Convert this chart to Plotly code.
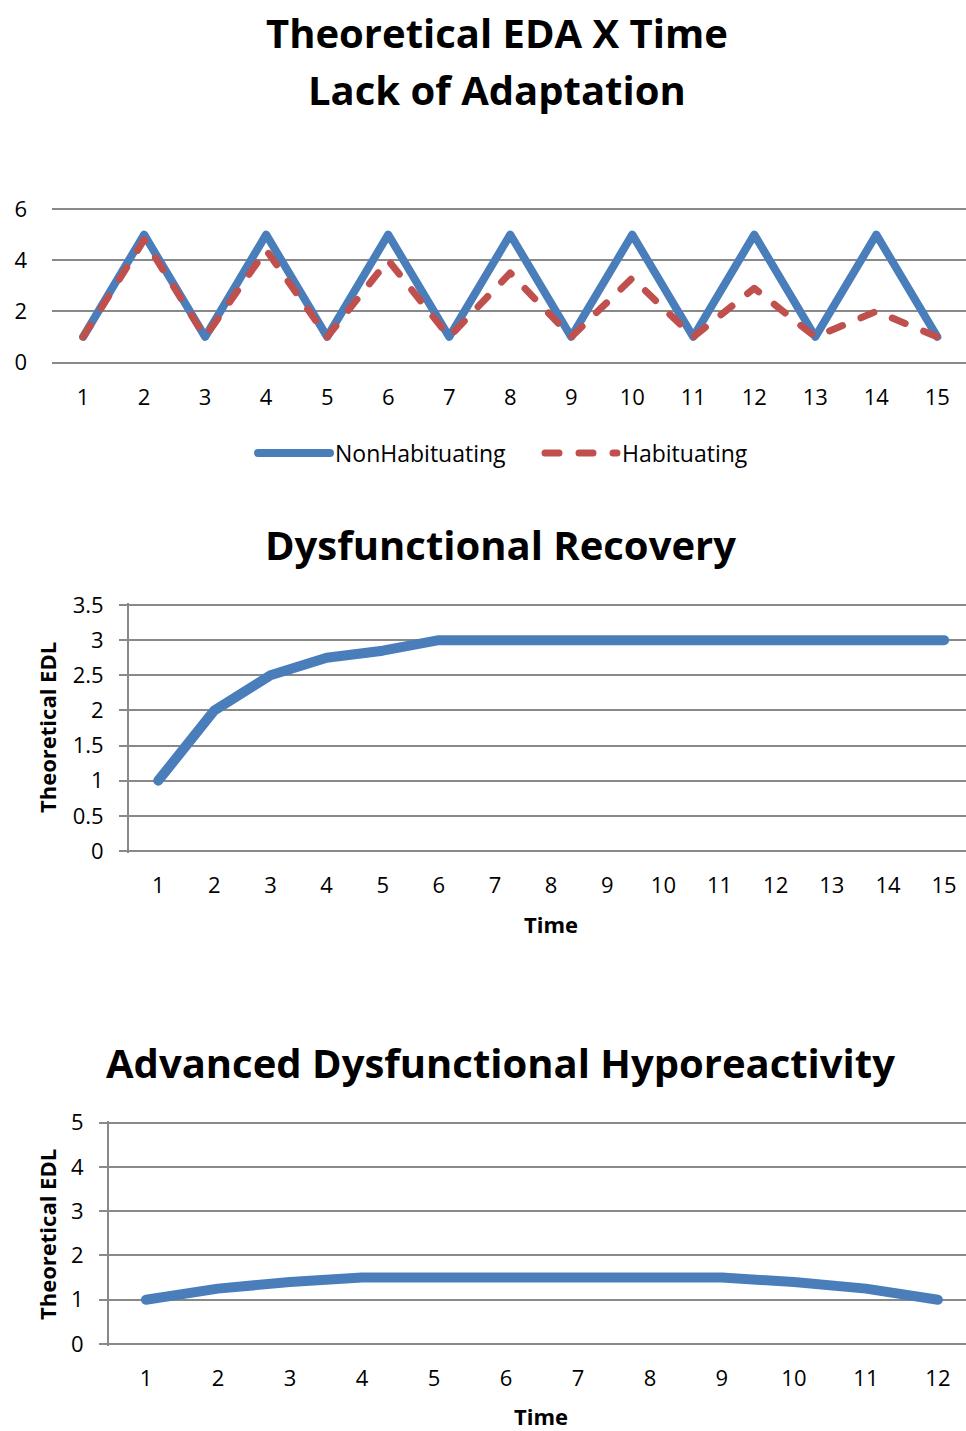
import plotly.graph_objects as go

# ---- data ----
time15 = list(range(1, 16))
non_habituating = [1, 5, 1, 5, 1, 5, 1, 5, 1, 5, 1, 5, 1, 5, 1]
habituating = [1, 4.8, 1, 4.4, 1, 4.0, 1, 3.5, 1, 3.3, 1, 2.9, 1, 2.0, 1]
recovery = [1, 2, 2.5, 2.75, 2.85, 3, 3, 3, 3, 3, 3, 3, 3, 3, 3]
time12 = list(range(1, 13))
hypo = [1, 1.25, 1.4, 1.5, 1.5, 1.5, 1.5, 1.5, 1.5, 1.4, 1.25, 1]

BLUE = "#4A7EBB"
RED = "#C0504D"
GRID = "#898989"
FONT = "Open Sans"
W, H = 966, 1431
PAD = 2  # px of padding so edge gridlines are drawn

def px(y):
    return 1 - y / H

def ydom(ytop, ybot):
    return [px(ybot + PAD), px(ytop - PAD)]

def yr(lo, hi, ytop, ybot):
    p = PAD * (hi - lo) / (ybot - ytop)
    return [lo - p, hi + p]

fig = go.Figure()
fig.add_trace(go.Scatter(x=time15, y=non_habituating, mode="lines", name="NonHabituating",
                         line=dict(color=BLUE, width=8), xaxis="x", yaxis="y"))
fig.add_trace(go.Scatter(x=time15, y=habituating, mode="lines", name="Habituating",
                         line=dict(color=RED, width=7, dash="14px,20px"), xaxis="x", yaxis="y"))
fig.add_trace(go.Scatter(x=time15, y=recovery, mode="lines", showlegend=False,
                         line=dict(color=BLUE, width=10), xaxis="x2", yaxis="y2"))
fig.add_trace(go.Scatter(x=time12, y=hypo, mode="lines", showlegend=False,
                         line=dict(color=BLUE, width=10), xaxis="x3", yaxis="y3"))

tickfont = dict(family=FONT, size=22, color="#000")
xcommon = dict(tickmode="linear", dtick=1, showgrid=False, zeroline=False,
               tickfont=tickfont, ticks="", fixedrange=True, automargin=False,
               ticklabelstandoff=17, showline=False)
ycommon = dict(showgrid=True, gridcolor=GRID, gridwidth=2, zeroline=False,
               tickfont=tickfont, fixedrange=True, automargin=False)

fig.update_layout(
    width=W, height=H,
    margin=dict(l=0, r=0, t=0, b=0, autoexpand=False),
    plot_bgcolor="white", paper_bgcolor="white",
    font=dict(family=FONT, color="#000"),
    xaxis=dict(**xcommon, domain=[52 / W, 1], range=[0.49, 15.47], anchor="y"),
    yaxis=dict(**ycommon, domain=ydom(209, 362.5), range=yr(0, 6, 209, 362.5), dtick=2,
               anchor="x", showline=False, ticks="", ticklabelstandoff=24),
    xaxis2=dict(**xcommon, domain=[129 / W, 1], range=[0.48, 15.39], anchor="y2"),
    yaxis2=dict(**ycommon, domain=ydom(605, 851), range=yr(0, 3.5, 605, 851), dtick=0.5,
                anchor="x2", showline=True, linecolor=GRID, linewidth=2,
                ticks="outside", ticklen=8, tickcolor=GRID, tickwidth=2,
                ticklabelstandoff=11),
    xaxis3=dict(**xcommon, domain=[109 / W, 1], range=[0.487, 12.39], anchor="y3"),
    yaxis3=dict(**ycommon, domain=ydom(1122.5, 1344), range=yr(0, 5, 1122.5, 1344), dtick=1,
                anchor="x3", showline=True, linecolor=GRID, linewidth=2,
                ticks="outside", ticklen=8, tickcolor=GRID, tickwidth=2,
                ticklabelstandoff=11),
    legend=dict(orientation="h", x=253 / W, xanchor="left", y=px(453), yanchor="middle",
                font=dict(family=FONT, size=23, color="#000"), itemwidth=72,
                entrywidth=200, entrywidthmode="pixels",
                bgcolor="rgba(0,0,0,0)"),
)

def ann(text, x, y, size, angle=0):
    fig.add_annotation(text=text, x=x / W, y=px(y), xref="paper", yref="paper",
                       showarrow=False, textangle=angle, xanchor="center", yanchor="middle",
                       font=dict(family=FONT, size=size, color="#000"))

ann("<b>Theoretical EDA X Time</b>", 497, 32, 40)
ann("<b>Lack of Adaptation</b>", 497, 89, 40)
ann("<b>Dysfunctional Recovery</b>", 500, 545, 40)
ann("<b>Advanced Dysfunctional Hyporeactivity</b>", 500, 1062, 40)
ann("<b>Time</b>", 551, 924, 22)
ann("<b>Time</b>", 541, 1416, 22)
ann("<b>Theoretical EDL</b>", 47, 728, 22, -90)
ann("<b>Theoretical EDL</b>", 47, 1235, 22, -90)

post = """
var gd = document.getElementById('{plot_id}');
function roundCaps(){
  gd.querySelectorAll('path.js-line').forEach(function(p){
    p.style.strokeLinecap = 'round';
    p.style.strokeLinejoin = 'round';
  });
}
roundCaps();
gd.on && gd.on('plotly_afterplot', roundCaps);
"""
fig.write_html("out.html", post_script=post)
